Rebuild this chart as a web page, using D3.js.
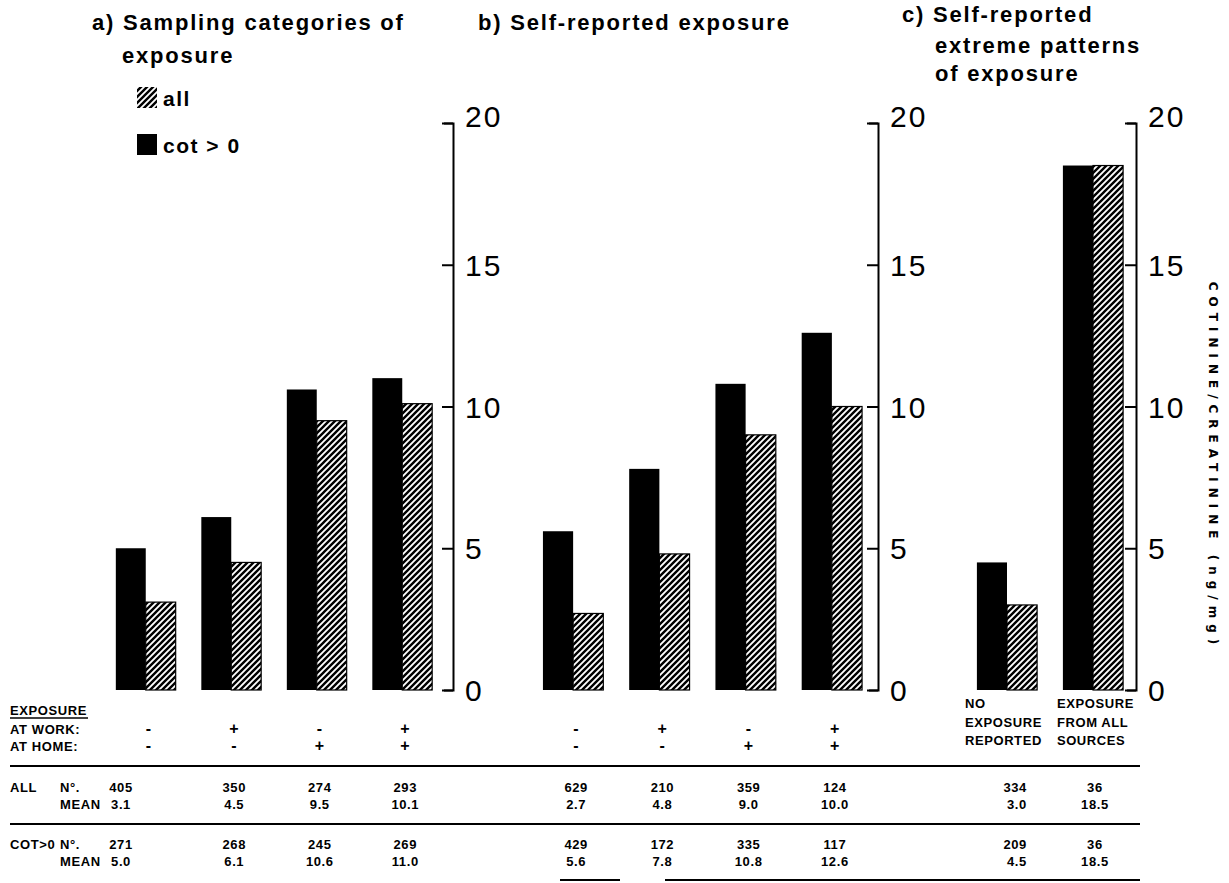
<!DOCTYPE html>
<html><head><meta charset="utf-8">
<script src="https://cdn.jsdelivr.net/npm/d3@7"></script>
<style>body{margin:0;background:#fff}</style>
</head><body>
<svg id="chart" width="1229" height="883"></svg>
<script>
// ---------- data ----------
const seriesKeys = ["cot", "all"];
const seriesLabels = ["cot > 0", "all"];
const catsAB = ["w-h-", "w+h-", "w-h+", "w+h+"];
const catsC = ["none", "allsrc"];
const atWork = ["-", "+", "-", "+"];
const atHome = ["-", "-", "+", "+"];
const headC1 = ["NO", "EXPOSURE", "REPORTED"];
const headC2 = ["EXPOSURE", "FROM ALL", "SOURCES"];
const cotMeanA = [5.0, 6.1, 10.6, 11.0];
const allMeanA = [3.1, 4.5, 9.5, 10.1];
const cotMeanB = [5.6, 7.8, 10.8, 12.6];
const allMeanB = [2.7, 4.8, 9.0, 10.0];
const cotMeanC = [4.5, 18.5];
const allMeanC = [3.0, 18.5];
const allNA = [405, 350, 274, 293];
const allNB = [629, 210, 359, 124];
const allNC = [334, 36];
const cotNA = [271, 268, 245, 269];
const cotNB = [429, 172, 335, 117];
const cotNC = [209, 36];
const yTicks = [0, 5, 10, 15, 20];
const titleA = ["a) Sampling categories of", "exposure"];
const titleB = ["b) Self-reported exposure"];
const titleC = ["c) Self-reported", "extreme patterns", "of exposure"];
const yTitle = "COTININE/CREATININE (ng/mg)";

// ---------- setup ----------
const svg = d3.select("#chart");
const fmt = d3.format(".1f");
const defs = svg.append("defs");
const pat = defs.append("pattern").attr("id", "hatch").attr("patternUnits", "userSpaceOnUse")
  .attr("width", 6).attr("height", 6);
pat.append("rect").attr("width", 6).attr("height", 6).attr("fill", "#fff");
pat.append("path").attr("d", "M-1,1 l2,-2 M0,6 l6,-6 M5,7 l2,-2")
  .attr("stroke", "#000").attr("stroke-width", 2.4);

const y = d3.scaleLinear().domain([0, 20]).range([690, 123]);

const panels = [
  { cats: catsAB, cot: cotMeanA, all: allMeanA, axisX: 453, range: [103, 445] },
  { cats: catsAB, cot: cotMeanB, all: allMeanB, axisX: 878, range: [530, 875] },
  { cats: catsC, cot: cotMeanC, all: allMeanC, axisX: 1136, range: [964, 1136] }
];

panels.forEach(p => {
  p.x = d3.scaleBand().domain(p.cats).range(p.range).paddingInner(0.3).paddingOuter(0.15);
  p.sub = d3.scaleBand().domain(seriesKeys).range([0, p.x.bandwidth()]);
  const g = svg.append("g");
  const rows = p.cats.map((c, i) => ({ c, cot: p.cot[i], all: p.all[i] }));
  seriesKeys.forEach(k => {
    g.selectAll(null).data(rows).join("rect")
      .attr("x", d => p.x(d.c) + p.sub(k))
      .attr("y", d => y(d[k]))
      .attr("width", p.sub.bandwidth())
      .attr("height", d => y(0) - y(d[k]))
      .attr("fill", k === "cot" ? "#000" : "url(#hatch)")
      .attr("stroke", "#000").attr("stroke-width", k === "cot" ? 0 : 1.2);
  });
  const ax = d3.axisRight(y).tickValues(yTicks).tickSize(-11).tickSizeOuter(-9).tickPadding(12);
  const ag = svg.append("g").attr("transform", `translate(${p.axisX},0)`).call(ax);
  ag.select(".domain").attr("stroke", "#000").attr("stroke-width", 2);
  ag.selectAll(".tick line").attr("stroke", "#000").attr("stroke-width", 2);
  ag.selectAll(".tick text").attr("font-family", "Liberation Sans, Arial, sans-serif")
    .attr("font-size", 30).attr("fill", "#000").attr("letter-spacing", 2)
    .attr("dy", d => d === 20 ? "0.1em" : "0.35em");
});

// ---------- titles ----------
function title(lines, x, ys, indent) {
  lines.forEach((t, i) => {
    svg.append("text").attr("x", i === 0 ? x : x + indent).attr("y", ys[i])
      .attr("font-family", "Liberation Sans, Arial, sans-serif").attr("font-weight", "bold")
      .attr("font-size", 22).attr("letter-spacing", 1.8).attr("fill", "#000").text(t);
  });
}
title(titleA, 92, [30, 63], 30);
title(titleB, 478, [30], 0);
title(titleC, 902, [22, 53, 81], 33);

// legend
const lg = svg.append("g");
const legY = [107, 154];
lg.selectAll("rect").data(["all", "cot"]).join("rect")
  .attr("x", 137).attr("y", (d, i) => legY[i] - 20).attr("width", 20).attr("height", 21)
  .attr("fill", d => d === "cot" ? "#000" : "url(#hatch)");
lg.selectAll("text").data([seriesLabels[1], seriesLabels[0]]).join("text")
  .attr("x", 163).attr("y", (d, i) => legY[i] - 1)
  .attr("font-family", "Liberation Sans, Arial, sans-serif").attr("font-weight", "bold")
  .attr("font-size", 21).attr("letter-spacing", 1.5).text(d => d);

// y title
svg.append("text").attr("transform", "translate(1209,466) rotate(90)")
  .attr("text-anchor", "middle")
  .attr("font-family", "DejaVu Sans, sans-serif").attr("font-weight", "bold")
  .attr("font-size", 12).attr("letter-spacing", 6).text(yTitle);

// ---------- table ----------
const tf = "Liberation Sans, Arial, sans-serif";
const tbl = svg.append("g").attr("font-family", tf).attr("font-weight", "bold")
  .attr("font-size", 13).attr("letter-spacing", 0.6).attr("fill", "#000");
function tx(x, yy, s, anchor, size) {
  const t = tbl.append("text").attr("x", x).attr("y", yy).attr("text-anchor", anchor || "middle").text(s);
  if (size) t.attr("font-size", size);
}
const rowY = { h1: 715, h2: 734, h3: 751, n1: 792, m1: 809, n2: 849, m2: 866 };
tx(10, rowY.h1, "EXPOSURE", "start");
tbl.append("line").attr("x1", 10).attr("x2", 88).attr("y1", rowY.h1 + 3).attr("y2", rowY.h1 + 3)
  .attr("stroke", "#000").attr("stroke-width", 1.3);
tx(10, rowY.h2, "AT WORK:", "start");
tx(10, rowY.h3, "AT HOME:", "start");
tx(10, rowY.n1, "ALL", "start");
tx(60, rowY.n1, "N°.", "start");
tx(60, rowY.m1, "MEAN", "start");
tx(10, rowY.n2, "COT>0", "start");
tx(60, rowY.n2, "N°.", "start");
tx(60, rowY.m2, "MEAN", "start");

[0, 1].forEach(pi => {
  const p = panels[pi];
  const nAll = pi === 0 ? allNA : allNB, nCot = pi === 0 ? cotNA : cotNB;
  p.cats.forEach((c, i) => {
    const cx = p.x(c) + p.x.bandwidth() / 2 + 3;
    const nx = (pi === 0 && i === 0) ? 121 : cx;
    tx(cx, rowY.h2, atWork[i], "middle", 16);
    tx(cx, rowY.h3, atHome[i], "middle", 16);
    tx(nx, rowY.n1, nAll[i]);
    tx(nx, rowY.m1, fmt(p.all[i]));
    tx(nx, rowY.n2, nCot[i]);
    tx(nx, rowY.m2, fmt(p.cot[i]));
  });
});
{
  const p = panels[2];
  const heads = [headC1, headC2];
  const hy = [708, 727, 745];
  p.cats.forEach((c, i) => {
    const left = p.x(c) - 12 + i * 6;
    heads[i].forEach((t, j) => tx(left, hy[j], t, "start"));
    const nx = i === 0 ? left + 62 : left + 38;
    const anc = i === 0 ? "end" : "middle";
    tx(nx, rowY.n1, allNC[i], anc);
    tx(nx, rowY.m1, fmt(p.all[i]), anc);
    tx(nx, rowY.n2, cotNC[i], anc);
    tx(nx, rowY.m2, fmt(p.cot[i]), anc);
  });
}
const lines = [[10, 1140, 766], [10, 1140, 824], [560, 620, 880], [665, 1140, 880]];
tbl.selectAll("line.rule").data(lines).join("line").attr("class", "rule")
  .attr("x1", d => d[0]).attr("x2", d => d[1]).attr("y1", d => d[2]).attr("y2", d => d[2])
  .attr("stroke", "#000").attr("stroke-width", 1.8);
</script>
</body></html>
